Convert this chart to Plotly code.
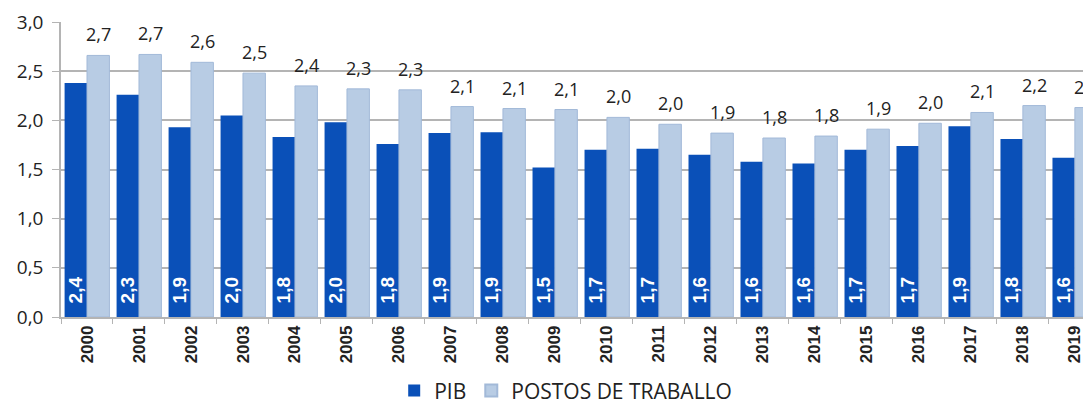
import plotly.graph_objects as go

years = [str(y) for y in range(2000, 2020)]
pib = [2.38, 2.26, 1.93, 2.05, 1.83, 1.98, 1.76, 1.87, 1.88, 1.52,
       1.70, 1.71, 1.65, 1.58, 1.56, 1.70, 1.74, 1.94, 1.81, 1.62]
postos = [2.66, 2.67, 2.59, 2.48, 2.35, 2.32, 2.31, 2.14, 2.12, 2.11,
          2.03, 1.96, 1.87, 1.82, 1.84, 1.91, 1.97, 2.08, 2.15, 2.13]
pib_labels = ["2,4", "2,3", "1,9", "2,0", "1,8", "2,0", "1,8", "1,9", "1,9", "1,5",
              "1,7", "1,7", "1,6", "1,6", "1,6", "1,7", "1,7", "1,9", "1,8", "1,6"]
postos_labels = ["2,7", "2,7", "2,6", "2,5", "2,4", "2,3", "2,3", "2,1", "2,1", "2,1",
                 "2,0", "2,0", "1,9", "1,8", "1,8", "1,9", "2,0", "2,1", "2,2", "2,1"]
y_ticks = [0, 0.5, 1.0, 1.5, 2.0, 2.5, 3.0]

DARK = "#0a50b8"
LIGHT = "#b8cce4"
TXT = "#222222"
GRID = "#b4b4b4"
FONT = "Open Sans"

fig = go.Figure()
fig.add_trace(go.Bar(
    x=years, y=pib, name="PIB",
    marker=dict(color=DARK, line=dict(width=0)),
    text=["\u00a0\u00a0" + t for t in pib_labels],
    textposition="inside", insidetextanchor="start", textangle=-90,
    textfont=dict(family="Liberation Sans", size=19, color="white", weight="bold"),
    constraintext="none", cliponaxis=True,
))
fig.add_trace(go.Bar(
    x=years, y=postos, name="POSTOS DE TRABALLO",
    marker=dict(color=LIGHT, line=dict(width=1, color="#a2b9d8")),
    cliponaxis=True,
))

annotations = []
for i, (v, lab) in enumerate(zip(postos, postos_labels)):
    annotations.append(dict(
        x=i, y=v, xref="x", yref="y", text=lab, showarrow=False,
        xanchor="center", yanchor="bottom",
        xshift=11.2, yshift=7, font=dict(family=FONT, size=18, color=TXT),
    ))

fig.update_layout(
    width=1083, height=430,
    margin=dict(l=53, r=0, t=14, b=121),
    paper_bgcolor="white", plot_bgcolor="white",
    barmode="group", bargap=0.138, bargroupgap=0,
    separators=",.",
    annotations=annotations,
    legend=dict(orientation="h", x=0.49, xanchor="center", y=-0.25, yanchor="middle",
                font=dict(family=FONT, size=21, color=TXT), itemsizing="constant"),
    xaxis=dict(
        type="category", range=[-0.5, 19.31], automargin=False,
        showline=True, linecolor=GRID, linewidth=1.5,
        ticks="outside", tickson="boundaries", ticklen=5, tickcolor=GRID,
        tickangle=-90, showgrid=False,
        tickfont=dict(family="Liberation Sans", size=17, color=TXT, weight="bold"),
    ),
    yaxis=dict(
        range=[0, 3.0], tickvals=y_ticks, tickformat=".1f", automargin=False,
        showgrid=True, gridcolor=GRID, gridwidth=1.5,
        showline=True, linecolor=GRID, linewidth=1.5,
        ticks="outside", ticklen=7, tickcolor=GRID, ticklabelstandoff=5,
        zeroline=False,
        tickfont=dict(family=FONT, size=19, color=TXT),
    ),
)

fig.write_html("out.html")
